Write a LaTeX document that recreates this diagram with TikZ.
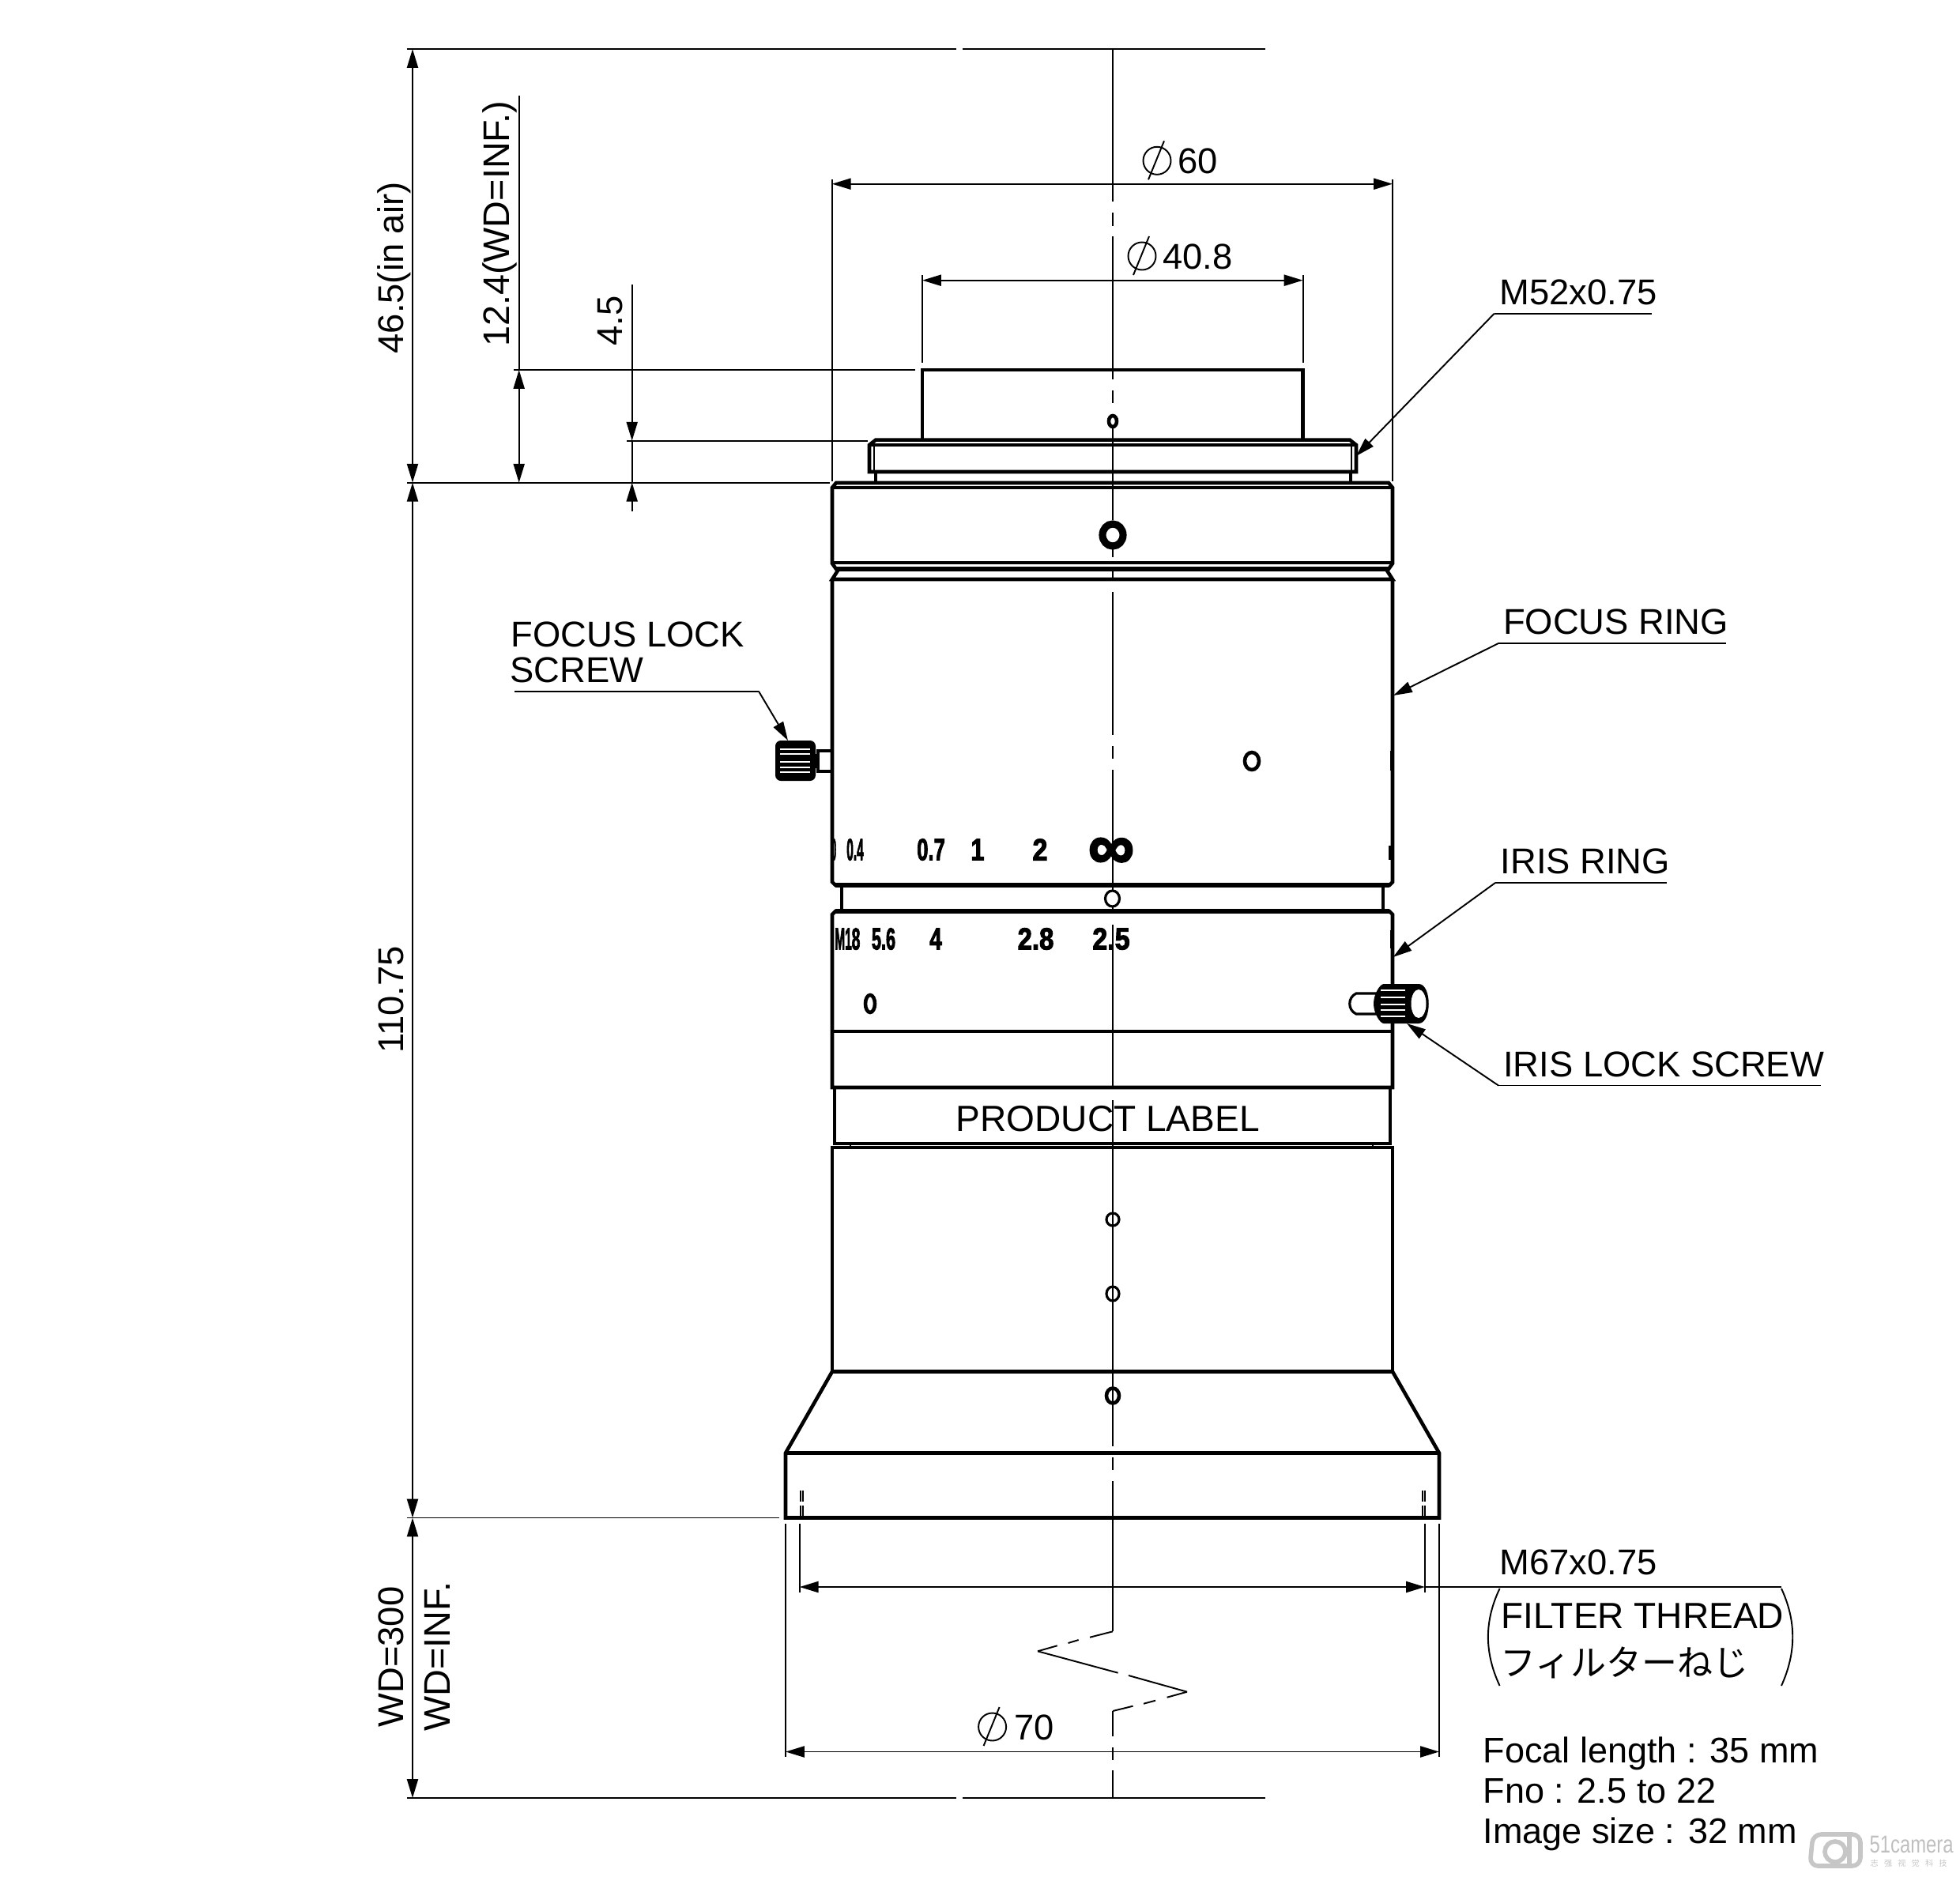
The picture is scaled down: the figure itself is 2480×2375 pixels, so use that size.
\documentclass[tikz,border=0pt]{standalone}
\usepackage{fontspec}
\setmainfont{Liberation Sans}
\newfontfamily\jpfont{Noto Sans CJK JP}
\newfontfamily\scfont[LetterSpace=70]{Noto Sans CJK SC}
\newfontfamily\ringfont[BoldFeatures={FakeBold=3}]{Liberation Sans}
\usetikzlibrary{arrows.meta}
\newcommand{\ringnum}[2]{\scalebox{#1}[1]{#2}}
\newcommand{\diasym}[2]{
	\draw [thin line] (#1,#2) circle [radius=17.5];
	\draw [thin line] ({#1-11},{#2+24}) -- ({#1+9},{#2-25});
}
\tikzset{
	>={Triangle[length=6.8pt,width=4pt]},
	thin line/.style={line width=0.55pt},
	thick line/.style={line width=1.3pt},
	heavy line/.style={line width=1.9pt},
	lbl/.style={anchor=base west,inner sep=0pt,font=\fontsize{12.9}{15}\selectfont},
	rotlbl/.style={lbl,rotate=90},
	ringlbl/.style={inner sep=0pt,font=\fontsize{11}{13}\ringfont\bfseries},
}
\begin{document}
\begin{tikzpicture}[x=0.01cm,y=-0.01cm]
	\useasboundingbox (0,0) rectangle (2480,2375);

	\coordinate (TopL) at (522,62);
	\coordinate (BaseL) at (522,610.7);
	\coordinate (EndL) at (522,1920.5);
	\coordinate (WdL) at (522,2275);
	\coordinate (InfT) at (656.7,468);
	\coordinate (InfB) at (656.7,610.7);
	\coordinate (InfE) at (656.7,121);
	\coordinate (HoodE) at (799.7,360);
	\coordinate (HoodM) at (799.7,557.7);
	\coordinate (HoodB) at (799.7,610.7);
	\coordinate (HoodF) at (799.7,647);
	\coordinate (DsixL) at (1052.7,232.7);
	\coordinate (DsixR) at (1762,232.7);
	\coordinate (DfrtL) at (1167,354.7);
	\coordinate (DfrtR) at (1648.6,354.7);
	\coordinate (MsvnL) at (1011.7,2008);
	\coordinate (MsvnR) at (1803,2008);
	\coordinate (MsvnE) at (2254,2008);
	\coordinate (DsevL) at (994,2216.5);
	\coordinate (DsevR) at (1821,2216.5);

	\draw [thin line] (515,62) -- (1210,62);
	\draw [thin line] (1218,62) -- (1601,62);
	\draw [thin line] (515,2275) -- (1210,2275);
	\draw [thin line] (1218,2275) -- (1601,2275);
	\draw [thin line] (650,468) -- (1158,468);
	\draw [thin line] (793,557.7) -- (1098,557.7);
	\draw [thin line] (515,610.7) -- (1050,610.7);
	\draw [thin line] (515,1920.5) -- (986,1920.5);
	\draw [thin line] (1052.7,227) -- (1052.7,609);
	\draw [thin line] (1762,227) -- (1762,609);
	\draw [thin line] (1167,348) -- (1167,459);
	\draw [thin line] (1648.6,348) -- (1648.6,459);
	\draw [thin line] (994,1928) -- (994,2222.5);
	\draw [thin line] (1821,1928) -- (1821,2222.5);
	\draw [thin line] (1011.7,1928) -- (1011.7,2014.5);
	\draw [thin line] (1803,1928) -- (1803,2014.5);

	\draw [thin line,<->] (TopL) -- (BaseL);
	\draw [thin line,<->] (BaseL) -- (EndL);
	\draw [thin line,<->] (EndL) -- (WdL);
	\draw [thin line,<->] (InfT) -- (InfB);
	\draw [thin line] (InfE) -- (InfT);
	\draw [thin line,->] (HoodE) -- (HoodM);
	\draw [thin line] (HoodM) -- (HoodB);
	\draw [thin line,->] (HoodF) -- (HoodB);
	\draw [thin line,<->] (DsixL) -- (DsixR);
	\draw [thin line,<->] (DfrtL) -- (DfrtR);
	\draw [thin line,<->] (MsvnL) -- (MsvnR);
	\draw [thin line] (MsvnR) -- (MsvnE);
	\draw [thin line,<->] (DsevL) -- (DsevR);

	\draw [thick line] (1167,556.7) -- (1167,468) -- (1648.6,468) -- (1648.6,556.7);
	\draw [thick line] (1100,563) -- (1108,556.7) -- (1708,556.7) -- (1716,563) -- (1716,597) -- (1100,597) -- cycle;
	\draw [thick line] (1100,563) -- (1716,563);
	\draw [thin line] (1106,563) -- (1106,597);
	\draw [thin line] (1710,563) -- (1710,597);
	\draw [thick line] (1108,597) -- (1108,611);
	\draw [thick line] (1709,597) -- (1709,611);

	\draw [thick line] (1053,617) -- (1058,611) -- (1757,611) -- (1762,617) -- (1762,713) -- (1757,720) -- (1058,720) -- (1053,713) -- cycle;
	\draw [thick line] (1053,617) -- (1762,617);
	\draw [thick line] (1053,712) -- (1762,712);
	\draw [heavy line] (1058,720) -- (1757,720);
	\draw [thick line] (1060,722) -- (1053,733) -- (1762,733) -- (1755,722);

	\draw [thick line] (1053,733) -- (1053,1116) -- (1057,1120) -- (1758,1120) -- (1762,1116) -- (1762,733);
	\draw [heavy line] (1057,1120) -- (1758,1120);
	\draw [thick line] (1065,1120) -- (1065,1153);
	\draw [thick line] (1750,1120) -- (1750,1153);
	\draw [thick line] (1053,1376) -- (1053,1157) -- (1057,1153) -- (1758,1153) -- (1762,1157) -- (1762,1376) -- cycle;
	\draw [heavy line] (1057,1153) -- (1758,1153);
	\draw [thick line] (1053,1305) -- (1762,1305);
	\draw [thick line] (1056,1376) -- (1056,1447) -- (1759,1447) -- (1759,1376);
	\draw [thin line] (1076,1447) -- (1076,1452);
	\draw [thin line] (1737,1447) -- (1737,1452);
	\draw [thick line] (1053,1735.5) -- (1053,1452) -- (1762,1452) -- (1762,1735.5) -- cycle;
	\draw [thick line] (1053,1735.5) -- (994,1838.5) -- (994,1920.5) -- (1821,1920.5) -- (1821,1838.5) -- (1762,1735.5);
	\draw [thick line] (994,1838.5) -- (1821,1838.5);
	\foreach \tx in {1013,1016,1800,1803} {
		\draw [thin line] (\tx,1886) -- (\tx,1900);
		\draw [thin line] (\tx,1905) -- (\tx,1920);
	}
	\draw [thick line] (1759,1070) -- (1759,1088);
	\draw [thin line] (1760,950) -- (1760,975);
	\draw [thin line] (1759.5,1177) -- (1759.5,1200);

	\foreach \ya/\yb in {62/255,269/285.7,299/480,494/510,540/658,695/705,722/735,749/930,944/960,974/1126,1148/1152,1170/1378,1392/1830,1844/1860,1874/2064,2165/2197,2211/2227,2240/2275}
		\draw [thin line] (1408,\ya) -- (1408,\yb);
	\foreach \xa/\ya/\xb/\yb in {1408/2064.3/1379/2071.7,1364.7/2075/1351.5/2079,1337.7/2082.3/1313/2089.3,1313/2089.3/1414.6/2116.7,1428/2120/1502/2140.7,1502/2140.7/1476.6/2147.7,1462/2151.7/1447/2155.7,1433.6/2158.7/1408/2165}
		\draw [thin line] (\xa,\ya) -- (\xb,\yb);

	\foreach \cx/\cy/\rx/\ry in {1408/533/5/7,1584/963/9/11,1101/1270/6/11,1408/1766/8/9.5}
		\draw [thick line] (\cx,\cy) ellipse [x radius=\rx,y radius=\ry];
	\foreach \cx/\cy/\rx/\ry in {1407.5/1137/9/10,1408/1543/8/8,1408/1637/8/9}
		\draw [line width=0.9pt] (\cx,\cy) ellipse [x radius=\rx,y radius=\ry];
	\draw [line width=2.6pt] (1408,677) ellipse [x radius=13,y radius=14];

	\fill [rounded corners=2pt] (981,937) rectangle (1032,988);
	\foreach \yy in {948,954,964,971,977}
		\draw [white,line width=0.4pt] (987,\yy) -- (1025,\yy);
	\fill (1032,954) rectangle (1037,972);
	\draw [thick line] (1052,950) -- (1035,950) -- (1035,976) -- (1052,976);

	\draw [line width=0.9pt] (1742,1257) -- (1716,1257) .. controls (1705,1262) and (1705,1278) .. (1716,1283) -- (1742,1283);
	\fill (1738,1270) .. controls (1738,1258) and (1746,1245) .. (1751,1245) -- (1795,1245) .. controls (1812,1245) and (1812,1295) .. (1795,1295) -- (1751,1295) .. controls (1746,1295) and (1738,1282) .. (1738,1270) -- cycle;
	\fill [white] (1795,1270) ellipse [x radius=9.5,y radius=18];
	\foreach \yy in {1253,1262,1271,1278,1286}
		\draw [white,line width=0.35pt] (1747,\yy) -- (1778,\yy);

	\node [ringlbl] (NzA) at (1055,1075) {\ringnum{0.3}{0}};
	\node [ringlbl] (NzB) at (1082,1075) {\ringnum{0.4}{0.4}};
	\node [ringlbl] (NzC) at (1178,1075) {\ringnum{0.66}{0.7}};
	\node [ringlbl] (NzD) at (1237,1075) {\ringnum{0.8}{1}};
	\node [ringlbl] (NzE) at (1316,1075) {\ringnum{0.88}{2}};
	\node [ringlbl] (NzF) at (1406,1080) {\resizebox{16.5pt}{11pt}{∞}};
	\node [ringlbl] (FnA) at (1067,1188) {\ringnum{0.4}{M1}};
	\node [ringlbl] (FnB) at (1083,1188) {\ringnum{0.5}{8}};
	\node [ringlbl] (FnC) at (1118,1188) {\ringnum{0.56}{5.6}};
	\node [ringlbl] (FnD) at (1184,1188) {\ringnum{0.72}{4}};
	\node [ringlbl] (FnE) at (1310.5,1188) {\ringnum{0.85}{2.8}};
	\node [ringlbl] (FnF) at (1406,1188) {\ringnum{0.88}{2.5}};

	\node [lbl,font=\fontsize{13.1}{15}\selectfont] (PL) at (1209,1431) {PRODUCT LABEL};
	\node [lbl] (Msf) at (1897,385) {M52x0.75};
	\node [lbl] (Fr) at (1901.5,802) {FOCUS RING};
	\node [lbl] (Ir) at (1898,1105.5) {IRIS RING};
	\node [lbl] (Ils) at (1901.5,1362) {IRIS LOCK SCREW};
	\node [lbl] (FlsA) at (646,818) {FOCUS LOCK};
	\node [lbl] (FlsB) at (645,863) {SCREW};
	\node [lbl] (Msv) at (1897,1992) {M67x0.75};
	\node [lbl,font=\fontsize{13.1}{15}\selectfont] (Ft) at (1899,2060) {FILTER THREAD};
	\node [lbl,font=\fontsize{12.8}{15}\jpfont] (Fn) at (1898,2120) {フィルターねじ};
	\node [lbl,font=\fontsize{12.8}{15}\selectfont] (Fl) at (1876,2230.5) {Focal length : 35 mm};
	\node [lbl,font=\fontsize{12.8}{15}\selectfont] (Fno) at (1876,2281.5) {Fno : 2.5 to 22};
	\node [lbl,font=\fontsize{12.8}{15}\selectfont] (Ims) at (1876,2332) {Image size : 32 mm};
	\node [lbl] (Dsix) at (1489.7,219) {60};
	\node [lbl] (Dfrt) at (1470.7,340.7) {40.8};
	\node [lbl] (Dsev) at (1283,2201) {70};
	\node [rotlbl] (AirL) at (510,448) {46.5(in air)};
	\node [rotlbl,font=\fontsize{13.3}{15}\selectfont] (InfL) at (644.5,439.5) {12.4(WD=INF.)};
	\node [rotlbl] (HoodL) at (787.5,438) {4.5};
	\node [rotlbl] (TotL) at (510,1333) {110.75};
	\node [rotlbl] (WdV) at (510,2186) {WD=300};
	\node [rotlbl,font=\fontsize{13.3}{15}\selectfont] (WdI) at (569.5,2191) {WD=INF.};
	\diasym{1464}{203.3}
	\diasym{1445}{324}
	\diasym{1255.6}{2185}

	\coordinate (MsfK) at (1890.7,396.7);
	\coordinate (MsfE) at (2090,396.7);
	\coordinate (MsfT) at (1716,577);
	\draw [thin line] (MsfE) -- (MsfK);
	\draw [thin line,->] (MsfK) -- (MsfT);
	\coordinate (FrK) at (1896,814);
	\coordinate (FrE) at (2184,814);
	\coordinate (FrT) at (1763,880);
	\draw [thin line] (FrE) -- (FrK);
	\draw [thin line,->] (FrK) -- (FrT);
	\coordinate (IrK) at (1892,1117);
	\coordinate (IrE) at (2109,1117);
	\coordinate (IrT) at (1762.7,1211);
	\draw [thin line] (IrE) -- (IrK);
	\draw [thin line,->] (IrK) -- (IrT);
	\coordinate (IlsK) at (1896,1373.5);
	\coordinate (IlsE) at (2304,1373.5);
	\coordinate (IlsT) at (1780,1295);
	\draw [thin line] (IlsE) -- (IlsK);
	\draw [thin line,->] (IlsK) -- (IlsT);
	\coordinate (FlsK) at (960,874.7);
	\coordinate (FlsE) at (651,874.7);
	\coordinate (FlsT) at (997,937);
	\draw [thin line] (FlsE) -- (FlsK);
	\draw [thin line,->] (FlsK) -- (FlsT);

	\draw [thin line] (1897.6,2010) .. controls (1878,2051) and (1878,2091) .. (1897.6,2133);
	\draw [thin line] (2254,2010) .. controls (2273,2051) and (2273,2091) .. (2254,2133);

	\draw [gray!45,line width=1.6pt,rounded corners=3pt] (2340,2321) -- (2294,2321) -- (2290,2361) -- (2354,2361) -- (2354,2321) -- (2340,2321);
	\draw [gray!45,line width=1.6pt] (2322,2343) circle [radius=13];
	\draw [gray!45,line width=1.6pt] (2340,2321) -- (2340,2361);
	\node [lbl,gray!50,font=\fontsize{8.8}{10}\selectfont] (WmA) at (2365,2344) {\scalebox{0.77}[1]{51camera}};
	\node [lbl,gray!45,font=\fontsize{2.9}{4}\scfont] (WmB) at (2366,2361) {志强视觉科技};
\end{tikzpicture}
\end{document}
